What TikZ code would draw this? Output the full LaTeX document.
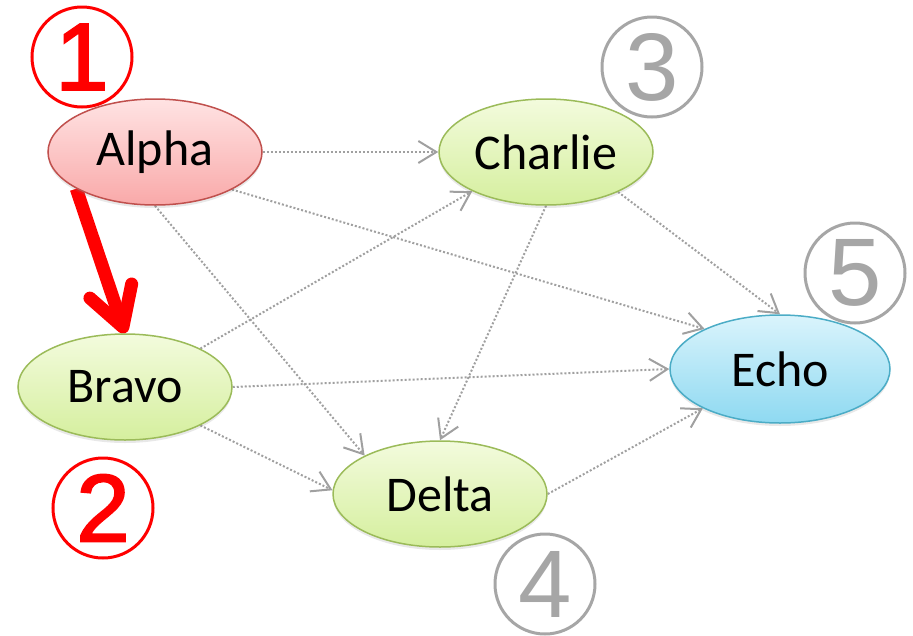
\documentclass[tikz,border=0pt]{standalone}
\usepackage{fontspec}
\setmainfont{Carlito}
\newfontfamily\digitfont{Liberation Sans}
\newfontfamily\heavydigitfont[FakeBold=2]{Liberation Sans}
\usetikzlibrary{shapes.geometric,arrows.meta,shadows}

\pgfdeclarelayer{bg}
\pgfsetlayers{bg,main}

\definecolor{alphaTop}{HTML}{FFE3E3}
\definecolor{alphaBot}{HTML}{F9A9A9}
\definecolor{alphaLine}{HTML}{C0504D}
\definecolor{greenTop}{HTML}{F3FBDD}
\definecolor{greenBot}{HTML}{D5EF9E}
\definecolor{greenLine}{HTML}{9BBB59}
\definecolor{blueTop}{HTML}{DAF4FC}
\definecolor{blueBot}{HTML}{8ED9F1}
\definecolor{blueLine}{HTML}{4BACC6}
\definecolor{edgeGray}{HTML}{A0A0A0}
\definecolor{badgeGray}{HTML}{A6A6A6}
\definecolor{badgeRed}{HTML}{FF0000}

\tikzset{
  state/.style={ellipse, minimum width=214pt, minimum height=106pt, inner sep=0pt,
    line width=1.5pt, font=\fontsize{50}{50}\selectfont,
    drop shadow={opacity=0.18, shadow xshift=0pt, shadow yshift=-3pt}},
  pinkstate/.style={state, draw=alphaLine, top color=alphaTop, bottom color=alphaBot},
  greenstate/.style={state, draw=greenLine, top color=greenTop, bottom color=greenBot},
  bluestate/.style={state, draw=blueLine, top color=blueTop, bottom color=blueBot,
    minimum width=220pt, minimum height=108pt},
  link/.style={draw=edgeGray, line width=2pt, dash pattern=on 2pt off 2pt,
    -{Straight Barb[length=18pt, width=22pt]}},
  firstlink/.style={draw=badgeRed, line width=13pt,
    -{Straight Barb[length=38pt, width=44pt, round]}},
  badge/.style={circle, draw, line width=3pt, minimum size=100pt, inner sep=0pt},
  redbadge/.style={badge, draw=badgeRed, text=badgeRed,
    font=\heavydigitfont\fontsize{96}{96}\selectfont},
  graybadge/.style={badge, draw=badgeGray, text=badgeGray,
    font=\digitfont\fontsize{96}{96}\selectfont},
}

\begin{document}
\begin{tikzpicture}[x=1pt, y=-1pt]
  \useasboundingbox (0,0) rectangle (913,635);

  % states
  \node[pinkstate]  (alpha)   at (155,152) {Alpha};
  \node[greenstate] (bravo)   at (125,387) {Bravo};
  \node[greenstate] (charlie) at (546,152) {Charlie};
  \node[greenstate] (delta)   at (440,494) {Delta};
  \node[bluestate]  (echo)    at (780,369) {Echo};

  % step numbers
  \node[redbadge]  (n1) at (82,57)   {1};
  \node[redbadge]  (n2) at (103,508) {2};
  \node[graybadge] (n3) at (652,67)  {3};
  \node[graybadge] (n4) at (545,584) {4};
  \node[graybadge] (n5) at (855,273) {5};

  % transitions, kept beneath the states
  \begin{pgfonlayer}{bg}
    \draw[link] (alpha.east) -- (charlie.west);
    \draw[link] (alpha.334)  -- (echo.152);
    \draw[link] (alpha.south) -- (delta.153);
    \draw[link] (bravo.27)   -- (charlie.208);
    \draw[link] (bravo.east) -- (echo.west);
    \draw[link] (bravo.333)  -- (delta.178);
    \draw[link] (charlie.south) -- (delta.north);
    \draw[link] (charlie.331) -- (echo.north);
    \draw[link] (delta.east) -- (echo.207);
    \draw[firstlink] (alpha.205) -- (bravo.north);
  \end{pgfonlayer}
\end{tikzpicture}
\end{document}
